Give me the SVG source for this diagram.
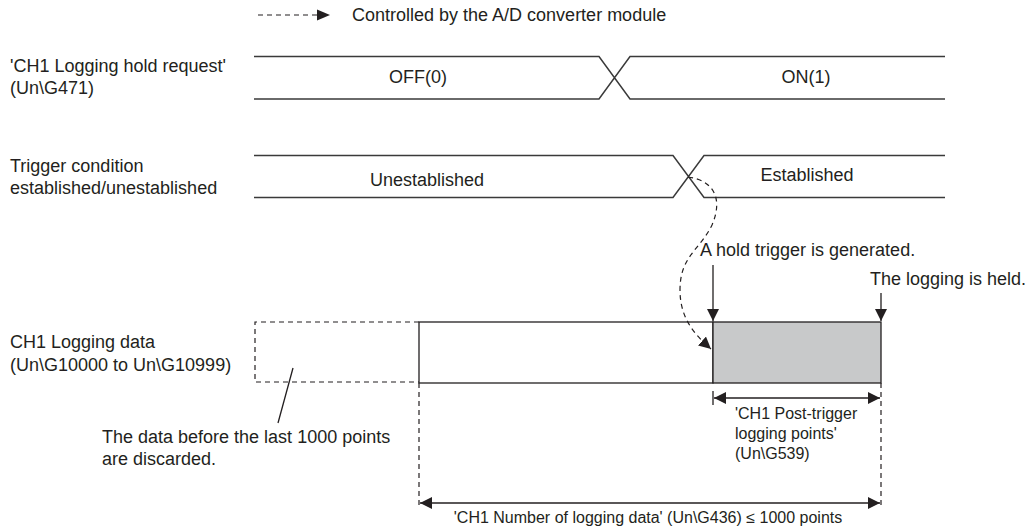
<svg xmlns="http://www.w3.org/2000/svg" width="1029" height="528" viewBox="0 0 1029 528">
<style>
text{font-family:"Liberation Sans",Arial,sans-serif;font-size:18px;fill:#231f20}
.s{font-size:16px}
.sig{fill:none;stroke:#3a3a3a;stroke-width:1.5}
.ln{fill:none;stroke:#231f20;stroke-width:1.3}
.ds{fill:none;stroke:#231f20;stroke-width:1.2;stroke-dasharray:5 4}
</style>
<defs>
<marker id="ah" viewBox="0 0 12 12" refX="12" refY="6" markerWidth="12" markerHeight="12" markerUnits="userSpaceOnUse" orient="auto-start-reverse">
<path d="M0,0 L12,6 L0,12 Z" fill="#231f20"/>
</marker>
</defs>
<rect width="1029" height="528" fill="#fff"/>
<g id="legend">
<line class="ds" x1="258" y1="15" x2="318" y2="15"/>
<path d="M317,9.5 L330,15 L317,20.5 Z" fill="#231f20"/>
<text x="352" y="21">Controlled by the A/D converter module</text>
</g>
<g id="hold-request">
<text x="10" y="72">'CH1 Logging hold request'</text>
<text x="10" y="94">(Un\G471)</text>
<path class="sig" d="M254,56.5 H599 L630,99 H945 M254,99 H599 L630,56.5 H945"/>
<text x="418" y="83" text-anchor="middle">OFF(0)</text>
<text x="806" y="83" text-anchor="middle">ON(1)</text>
</g>
<g id="trigger-condition">
<text x="10" y="172">Trigger condition</text>
<text x="10" y="194">established/unestablished</text>
<path class="sig" d="M254,155.5 H673 L704,197.5 H945 M254,197.5 H673 L704,155.5 H945"/>
<text x="427" y="186" text-anchor="middle">Unestablished</text>
<text x="807" y="181" text-anchor="middle">Established</text>
</g>
<g id="logging-data">
<text x="10" y="348">CH1 Logging data</text>
<text x="10" y="371">(Un\G10000 to Un\G10999)</text>
<path class="ds" d="M419,322 H255 V382 H419"/>
<rect x="419" y="322" width="294" height="61" fill="#fff" stroke="#231f20" stroke-width="1.3"/>
<rect x="713" y="322" width="168" height="61" fill="#c8c9ca" stroke="#231f20" stroke-width="1.3"/>
</g>
<g id="discard-note">
<line class="ln" x1="293" y1="368" x2="278" y2="423"/>
<text x="102" y="443">The data before the last 1000 points</text>
<text x="102" y="465">are discarded.</text>
</g>
<g id="hold-trigger">
<text x="700" y="256">A hold trigger is generated.</text>
<line class="ln" x1="713" y1="265" x2="713" y2="321" marker-end="url(#ah)"/>
</g>
<g id="logging-held">
<text x="870" y="285">The logging is held.</text>
<line class="ln" x1="881" y1="293" x2="881" y2="321" marker-end="url(#ah)"/>
</g>
<g id="connectors">
<path class="ds" d="M688,177 C712,180 724,197 712,225 C700,250 680,256 680,290 C680,318 694,334 711,349" marker-end="url(#ah)"/>
<line class="ds" x1="419" y1="383" x2="419" y2="508"/>
<line class="ds" x1="881" y1="383" x2="881" y2="508"/>
<line class="ln" x1="713" y1="391" x2="713" y2="405"/>
<line class="ln" x1="714" y1="398" x2="880" y2="398" marker-start="url(#ah)" marker-end="url(#ah)"/>
<line class="ln" x1="420" y1="503" x2="880" y2="503" marker-start="url(#ah)" marker-end="url(#ah)"/>
</g>
<g id="post-trigger-label">
<text class="s" x="735" y="419">'CH1 Post-trigger</text>
<text class="s" x="735" y="439">logging points'</text>
<text class="s" x="735" y="459">(Un\G539)</text>
</g>
<g id="number-label">
<text class="s" x="648" y="523" text-anchor="middle">'CH1 Number of logging data' (Un\G436) ≤ 1000 points</text>
</g>
</svg>
